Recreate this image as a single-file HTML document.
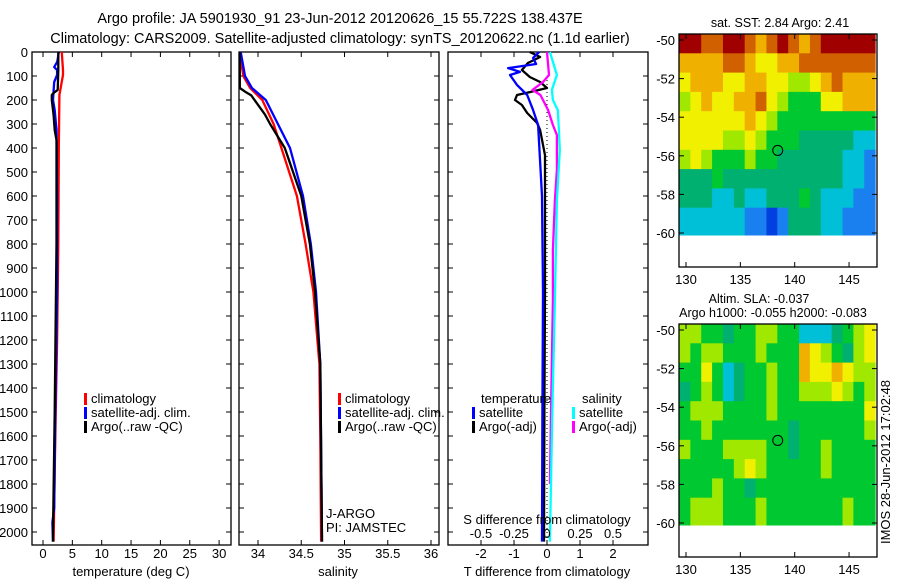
<!DOCTYPE html>
<html><head><meta charset="utf-8"><style>
body{margin:0;background:#fff;}
svg{display:block;font-family:"Liberation Sans",sans-serif;}
</style></head><body>
<svg id="fig" width="900" height="580" viewBox="0 0 900 580" xmlns="http://www.w3.org/2000/svg">
<text x="340" y="23" font-size="14.5" text-anchor="middle">Argo profile: JA 5901930_91 23-Jun-2012 20120626_15 55.722S 138.437E</text>
<text x="340" y="43" font-size="14.5" text-anchor="middle">Climatology: CARS2009. Satellite-adjusted climatology: synTS_20120622.nc (1.1d earlier)</text>
<g id="g1"></g>
<g id="g2"></g>
<g id="g3"></g>
<g id="g4"></g>
<g id="g5"></g>
<text transform="translate(890,462) rotate(-90)" font-size="13" text-anchor="middle">IMOS 28-Jun-2012 17:02:48</text>
</svg>
<script>
// ---- Temperature panel data ----
const climTDepth=[0,40,75,96,137,179,400,800,1200,1600,2040];
const climTVal=[3.2,3.3,3.4,3.4,3.1,2.8,2.7,2.6,2.4,2.1,1.8];
const satTDepth=[0,30,42,63,75,96,125,200,242,325,600,1000,1500,1900,1960,2040];
const satTVal=[2.7,2.5,2.4,1.9,2.4,2.4,1.9,1.7,2.0,2.3,2.4,2.4,2.1,1.9,1.6,1.7];
const argoTDepth=[0,75,158,171,179,200,221,263,325,367,800,1500,2000,2040];
const argoTVal=[2.6,2.6,2.5,1.8,1.5,1.5,1.6,1.8,2.0,2.3,2.3,2.0,1.7,1.7];
const tTicks=[0,5,10,15,20,25,30];
const depthTicks=[0,100,200,300,400,500,600,700,800,900,1000,1100,1200,1300,1400,1500,1600,1700,1800,1900,2000];
// ---- Salinity panel data ----
const climSDepth=[0,100,150,200,300,400,600,800,1000,1300,1600,2040];
const climSVal=[33.79,33.83,33.91,34.05,34.18,34.27,34.45,34.55,34.64,34.71,34.72,34.73];
const satSDepth=[0,100,150,200,300,400,600,800,1000,1300,2040];
const satSVal=[33.80,33.85,33.93,34.09,34.23,34.37,34.52,34.61,34.67,34.72,34.74];
const argoSDepth=[0,150,165,180,220,260,300,400,600,800,1000,1300,2040];
const argoSVal=[33.79,33.79,33.85,33.92,34.0,34.08,34.14,34.31,34.50,34.60,34.66,34.72,34.74];
const sTicks=[34,34.5,35,35.5,36];
const sTickLabels=["34","34.5","35","35.5","36"];
// ---- Difference panel data ----
const satDTDepth=[0,25,50,67,83,96,137,179,242,304,600,1000,1500,2040];
const satDTVal=[-0.24,-0.42,-0.33,-1.18,-0.82,-1.12,-0.91,-0.6,-0.42,-0.27,-0.15,-0.12,-0.14,-0.15];
const argoDTDepth=[0,21,46,75,104,125,150,167,179,200,221,254,296,325,430,1000,1500,2040];
const argoDTVal=[-0.52,-0.21,-0.58,-0.76,-0.52,-0.21,0,-0.52,-0.91,-0.97,-0.76,-0.6,-0.3,-0.21,-0.06,-0.06,-0.08,-0.09];
const satDSDepth=[0,96,158,200,242,325,408,617,1033,1500,2040];
const satDSVal=[0.022,0.075,0.037,0.045,0.082,0.09,0.097,0.075,0.06,0.04,0.022];
const argoDSDepth=[0,96,125,158,179,200,242,304,346,492,617,825,1033,1500,1800];
const argoDSVal=[0,0.015,-0.03,-0.11,-0.05,-0.03,0.008,0.045,0.075,0.075,0.06,0.045,0.045,0.03,0.022];
const dTTicks=[-2,-1,0,1,2];
const dSTicks=[-0.5,-0.25,0,0.25,0.5];
const dSTickLabels=["-0.5","-0.25","0","0.25","0.5"];
// ---- Map data (rows -50..-60, cols 130..148, 0=dark blue .. 10=dark red) ----
const sstGrid=[
[10,10,9,9,10,10,9,8,9,10,9,8,9,10,10,10,10,10],
[8,8,8,8,9,9,8,7,7,8,8,9,9,9,9,9,9,9],
[7,8,8,8,7,7,8,8,7,7,6,6,7,8,9,8,8,8],
[6,7,8,7,7,8,8,9,7,6,5,5,5,7,7,8,8,8],
[7,7,7,7,7,7,8,7,6,5,5,5,5,5,5,5,5,5],
[7,7,7,7,6,6,7,6,5,5,5,4,4,4,4,4,3,3],
[6,7,6,5,5,5,6,5,5,4,4,4,4,4,4,3,3,2],
[4,4,4,5,4,4,4,4,4,4,4,4,4,4,4,3,3,2],
[4,4,4,3,3,4,3,3,4,4,4,5,4,3,3,3,2,2],
[3,3,3,3,3,3,2,2,1,2,4,4,4,3,3,2,2,2]];
const slaGrid=[
[6,6,5,5,4,5,5,6,6,5,5,3,3,3,4,5,6,7],
[6,5,6,6,5,5,5,6,5,5,5,8,7,6,5,4,6,7],
[5,5,7,5,3,4,5,5,6,5,5,8,7,7,8,7,6,6],
[4,5,6,5,3,4,5,5,6,5,5,6,6,6,7,6,5,6],
[5,6,6,6,5,5,5,5,6,5,5,5,5,5,5,5,5,7],
[5,5,6,5,5,5,5,5,5,5,4,5,5,5,5,5,5,6],
[6,5,5,5,6,6,6,6,5,5,4,5,5,6,5,5,5,5],
[5,5,5,5,5,6,7,6,5,5,5,5,5,6,5,5,5,5],
[5,5,5,6,5,5,4,5,5,5,5,5,5,5,5,5,5,5],
[5,6,6,6,5,5,5,6,5,5,5,5,5,5,5,6,5,5]];
const latTicks=[-50,-52,-54,-56,-58,-60];
const lonTicks=[130,135,140,145];
const argoLon=138.437, argoLat=-55.722;
const palette=["#0010a0","#0040e0","#1a80f0","#00c0d8","#00b070","#00c830","#a0e800","#f0f000","#f0b000","#d06000","#a00000"];

const NS="http://www.w3.org/2000/svg";
function mk(parent,tag,attrs){const e=document.createElementNS(NS,tag);for(const k in attrs)e.setAttribute(k,attrs[k]);parent.appendChild(e);return e;}
function txt(parent,x,y,s,size,anchor){const t=mk(parent,'text',{x:x,y:y,'font-size':size,'text-anchor':anchor||'middle'});t.textContent=s;return t;}
const yD=d=>52+0.24*d;
const TOP=52,BOT=545;

function frame(g,x0,x1){mk(g,'rect',{x:x0,y:TOP,width:x1-x0,height:BOT-TOP,fill:'none',stroke:'#000','stroke-width':1.3});}
function line(g,xs,ds,xf,color,name){
  const pts=ds.map((d,i)=>xf(xs[i]).toFixed(1)+','+yD(d).toFixed(1)).join(' ');
  const p=mk(g,'polyline',{points:pts,fill:'none',stroke:color,'stroke-width':2.3,'stroke-linejoin':'round'});
  
  
}
function xticks(g,ticks,labels,xf,ly){
  ticks.forEach((t,i)=>{const x=xf(t);
    mk(g,'line',{x1:x,y1:TOP,x2:x,y2:TOP+5,stroke:'#000'});
    mk(g,'line',{x1:x,y1:BOT,x2:x,y2:BOT-5,stroke:'#000'});
    if(ly)txt(g,x,ly,labels[i],13);});
}
function yticks(g,x0,x1,labels){
  depthTicks.forEach(d=>{const y=yD(d);
    mk(g,'line',{x1:x0,y1:y,x2:x0+5,y2:y,stroke:'#000'});
    mk(g,'line',{x1:x1,y1:y,x2:x1-5,y2:y,stroke:'#000'});
    if(labels)txt(g,28,y+5,String(d),13,'end');});
}
function legend(g,x,y,color,label){
  mk(g,'rect',{x:x,y:y-10,width:3,height:12,fill:color});
  txt(g,x+7,y,label,13,'start');
}

// Panel 1
(function(){const g=document.getElementById('g1');const xf=T=>43+5.87*T;
  frame(g,32,231);xticks(g,tTicks,tTicks.map(String),xf,558);yticks(g,32,231,true);
  line(g,climTVal,climTDepth,xf,'#ff0000','climatology-temp-line');
  line(g,satTVal,satTDepth,xf,'#0000ff','satellite-temp-line');
  line(g,argoTVal,argoTDepth,xf,'#000000','argo-temp-line');
  legend(g,84,403,'#ff0000','climatology');legend(g,84,417,'#0000ff','satellite-adj. clim.');legend(g,84,431,'#000','Argo(..raw -QC)');
  txt(g,131,576,'temperature (deg C)',13);
})();
// Panel 2
(function(){const g=document.getElementById('g2');const xf=S=>258+86.5*(S-34);
  frame(g,239,439);xticks(g,sTicks,sTickLabels,xf,558);yticks(g,239,439,false);
  line(g,climSVal,climSDepth,xf,'#ff0000','climatology-sal-line');
  line(g,satSVal,satSDepth,xf,'#0000ff','satellite-sal-line');
  line(g,argoSVal,argoSDepth,xf,'#000000','argo-sal-line');
  legend(g,338,403,'#ff0000','climatology');legend(g,338,417,'#0000ff','satellite-adj. clim.');legend(g,338,431,'#000','Argo(..raw -QC)');
  txt(g,326,518,'J-ARGO',13,'start');txt(g,326,532,'PI: JAMSTEC',13,'start');
  txt(g,338,576,'salinity',13);
})();
// Panel 3
(function(){const g=document.getElementById('g3');const xT=v=>547+33*v, xS=v=>547+132*v;
  mk(g,'rect',{x:448,y:TOP,width:200,height:BOT-TOP,fill:'none',stroke:'#000','stroke-width':1.3});
  xticks(g,dTTicks,dTTicks.map(String),xT,558);yticks(g,448,648,false);
  mk(g,'line',{x1:547,y1:yD(100),x2:547,y2:yD(2030),stroke:'#000','stroke-dasharray':'1,3'});
  line(g,argoDTVal,argoDTDepth,xT,'#000000','argo-temp-diff-line');
  line(g,satDTVal,satDTDepth,xT,'#0000ff','satellite-temp-diff-line');
  line(g,argoDSVal,argoDSDepth,xS,'#ff00ff','argo-sal-diff-line');
  line(g,satDSVal,satDSDepth,xS,'#00ffff','satellite-sal-diff-line');
  txt(g,481,403,'temperature',13,'start');txt(g,582,403,'salinity',13,'start');
  legend(g,472,417,'#0000ff','satellite');legend(g,472,431,'#000','Argo(-adj)');
  legend(g,572,417,'#00ffff','satellite');legend(g,572,431,'#ff00ff','Argo(-adj)');
  txt(g,547,524,'S difference from climatology',13);
  dSTicks.forEach((v,i)=>txt(g,xS(v),538,dSTickLabels[i],13));
  txt(g,547,576,'T difference from climatology',13);
})();
// Maps
function drawMap(gid,grid,top,titles){
  const g=document.getElementById(gid);
  const L=679,R=877,B=top+233;
  const xL=lon=>686+(lon-130)*10.87, yL=lat=>top+6+(-50-lat)*19.3;
  const rows=grid.length;
  grid.forEach((row,r)=>row.forEach((v,c)=>{
    const x0=Math.max(L,xL(130+c-0.6)), x1=Math.min(R,xL(131+c-0.6));
    const y0=top+19.3*r, y1=top+19.3*(r+1)+(r===rows-1?8:0);
    const cell=mk(g,'rect',{x:x0,y:y0,width:Math.max(0,x1-x0)+0.5,height:y1-y0+0.5,fill:palette[v]});
    
    
  }));
  mk(g,'rect',{x:L,y:top,width:R-L,height:B-top,fill:'none',stroke:'#000','stroke-width':1.3});
  latTicks.forEach(l=>{const y=yL(l);mk(g,'line',{x1:L,y1:y,x2:L+5,y2:y,stroke:'#000'});mk(g,'line',{x1:R,y1:y,x2:R-5,y2:y,stroke:'#000'});txt(g,675,y+5,String(l),13,'end');});
  lonTicks.forEach(l=>{const x=xL(l);mk(g,'line',{x1:x,y1:top,x2:x,y2:top+5,stroke:'#000'});mk(g,'line',{x1:x,y1:B,x2:x,y2:B-5,stroke:'#000'});txt(g,x,B+17,String(l),13);});
  const c=mk(g,'circle',{cx:xL(argoLon),cy:yL(argoLat),r:5,fill:'none',stroke:'#000','stroke-width':1});
  
  
  titles.forEach((t,i)=>txt(g,t[1],t[2],t[0],12.5));
}
drawMap('g4',sstGrid,34,[['sat. SST: 2.84 Argo: 2.41',780,27]]);
drawMap('g5',slaGrid,324,[['Altim. SLA: -0.037',759,303],['Argo h1000: -0.055 h2000: -0.083',773,317]]);
</script>
</body></html>
